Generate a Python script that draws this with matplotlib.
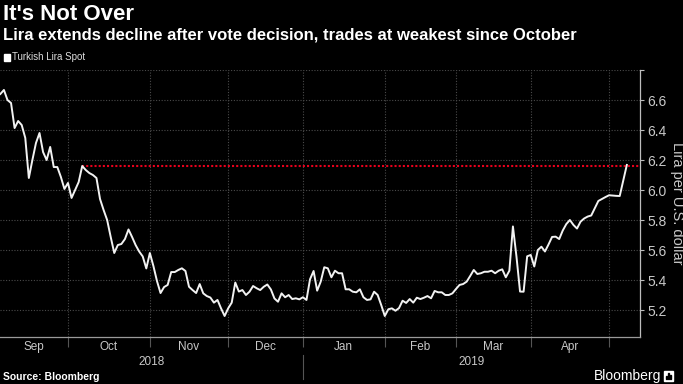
#!/usr/bin/env python3
"""Turkish lira spot chart, Bloomberg dark style."""

import numpy as np
import pandas as pd
import matplotlib
matplotlib.use("Agg")
import matplotlib.pyplot as plt
import matplotlib.transforms as mtransforms
from matplotlib.patches import Rectangle
from matplotlib.lines import Line2D

# --- data ---
spot_dates = list(pd.bdate_range("2018-09-04", "2019-05-06")) + [pd.Timestamp("2019-05-08")]
spot_values = [
    6.64, 6.667, 6.60, 6.58, 6.413, 6.46, 6.433, 6.347, 6.08, 6.20,
    6.313, 6.38, 6.253, 6.20, 6.287, 6.153, 6.153, 6.087, 6.007, 6.047,
    5.947, 6.00, 6.053, 6.16, 6.133, 6.113, 6.10, 6.08, 5.94, 5.867,
    5.80, 5.687, 5.58, 5.633, 5.64, 5.673, 5.737, 5.687, 5.633, 5.59,
    5.557, 5.477, 5.58, 5.493, 5.393, 5.313, 5.353, 5.367, 5.453, 5.453,
    5.467, 5.478, 5.46, 5.355, 5.333, 5.313, 5.373, 5.311, 5.293, 5.283,
    5.249, 5.267, 5.211, 5.16, 5.211, 5.249, 5.383, 5.323, 5.333, 5.30,
    5.322, 5.36, 5.345, 5.333, 5.355, 5.37, 5.337, 5.277, 5.255, 5.311,
    5.285, 5.30, 5.273, 5.278, 5.271, 5.285, 5.267, 5.405, 5.46, 5.329,
    5.389, 5.485, 5.478, 5.418, 5.462, 5.445, 5.445, 5.338, 5.338, 5.322,
    5.318, 5.338, 5.285, 5.267, 5.271, 5.322, 5.30, 5.233, 5.16, 5.205,
    5.211, 5.195, 5.213, 5.262, 5.247, 5.273, 5.249, 5.282, 5.273, 5.282,
    5.293, 5.278, 5.327, 5.318, 5.318, 5.30, 5.30, 5.311, 5.34, 5.367,
    5.373, 5.389, 5.427, 5.467, 5.44, 5.445, 5.455, 5.455, 5.462, 5.445,
    5.462, 5.471, 5.418, 5.462, 5.757, 5.555, 5.323, 5.322, 5.558, 5.567,
    5.49, 5.60, 5.622, 5.59, 5.637, 5.687, 5.689, 5.673, 5.73, 5.773,
    5.80, 5.767, 5.743, 5.789, 5.81, 5.823, 5.83, 5.878, 5.927, 5.94,
    5.953, 5.965, 5.963, 5.961, 5.96, 6.167,
]
ref_level = 6.16
ref_start = "2018-10-05"

month_starts = ["2018-10-01", "2018-11-01", "2018-12-01", "2019-01-01",
                "2019-02-01", "2019-03-01", "2019-04-01", "2019-05-01"]
month_labels = ["Sep", "Oct", "Nov", "Dec", "Jan", "Feb", "Mar", "Apr"]
year_labels = ["2018", "2019"]
y_ticks = [5.2, 5.4, 5.6, 5.8, 6.0, 6.2, 6.4, 6.6, 6.8]

title = "It's Not Over"
subtitle = "Lira extends decline after vote decision, trades at weakest since October"
series_name = "Turkish Lira Spot"
y_label = "Lira per U.S. dollar"
source = "Source: Bloomberg"

# --- x positions on a business-day scale ---
origin = "2018-09-03"
day_str = [d.strftime("%Y-%m-%d") for d in spot_dates]
x = np.busday_count(origin, day_str)
bounds = np.busday_count(origin, month_starts)
x_left, x_right = 0.9, 180.7

narrow = ["Liberation Sans Narrow", "Liberation Sans", "DejaVu Sans"]
plain = ["Liberation Sans", "DejaVu Sans"]
grey = "#c8c8c8"

W, H = 683, 384
fig = plt.figure(figsize=(W / 100, H / 100), dpi=100, facecolor="black")
ax = fig.add_axes([0, 47 / H, 640 / W, 267 / H], facecolor="black")

ax.plot(x, spot_values, color="#f2f2f2", lw=1.4, zorder=3)
ax.hlines(ref_level, np.busday_count(origin, ref_start), x_right,
          colors="#e8001c", linestyles=(0, (1, 1)), lw=1.5, zorder=2)

ax.set_xlim(x_left, x_right)
ax.set_ylim(5.02, 6.8)

# grid
ax.set_yticks(y_ticks)
ax.set_yticklabels([f"{t:.1f}" if t < 6.7 else "" for t in y_ticks])
ax.set_xticks(bounds)
ax.set_xticklabels([])
ax.grid(True, color="#4a4a4a", ls=(0, (1, 1.5)), lw=0.8)
ax.set_axisbelow(True)

ax.yaxis.tick_right()
ax.yaxis.set_label_position("right")
ax.tick_params(axis="y", colors="#bdbdbd", labelcolor=grey, length=3,
               width=0.8, labelsize=10, pad=2)
ax.tick_params(axis="x", colors="#555555", length=7, width=0.8)
for lab in ax.get_yticklabels():
    lab.set_family(plain)
ax.set_ylabel(y_label, color=grey, fontsize=10.5, family=plain,
              rotation=-90, va="center", labelpad=8)

for side in ("left", "top"):
    ax.spines[side].set_visible(False)
ax.spines["right"].set_color("#bdbdbd")
ax.spines["bottom"].set_color("#9a9a9a")
ax.spines["right"].set_linewidth(0.9)
ax.spines["bottom"].set_linewidth(0.9)

# month and year labels
trans = mtransforms.blended_transform_factory(ax.transData, ax.transAxes)
edges = [x_left] + list(bounds)
for i, name in enumerate(month_labels):
    ax.text((edges[i] + edges[i + 1]) / 2, -10 / 267, name, transform=trans,
            ha="center", va="center", color=grey, fontsize=8.5, family=plain)
jan = np.busday_count(origin, "2019-01-01")
ax.text((x_left + jan) / 2, -25 / 267, year_labels[0], transform=trans,
        ha="center", va="center", color=grey, fontsize=8.5, family=plain)
ax.text((jan + x_right) / 2, -25 / 267, year_labels[1], transform=trans,
        ha="center", va="center", color=grey, fontsize=8.5, family=plain)
ax.add_line(Line2D([jan, jan], [-18 / 267, -42 / 267], transform=trans,
                   color="#555555", lw=0.8, clip_on=False))

# titles and legend
fig.text(3 / W, 1 - 15 / H, title, color="white", fontsize=16,
         fontweight="bold", family=narrow, va="center")
fig.text(3 / W, 1 - 35 / H, subtitle, color="white", fontsize=12,
         fontweight="bold", family=narrow, va="center")
fig.add_artist(Rectangle((4 / W, 1 - 61 / H), 6 / W, 7 / H,
                         transform=fig.transFigure, color="white"))
fig.text(12 / W, 1 - 57.5 / H, series_name, color="#dddddd", fontsize=7,
         family=narrow, va="center")

# footer
fig.text(3 / W, 1 - 377 / H, source, color="white", fontsize=7.5,
         fontweight="bold", family=plain, va="center")
fig.text(661 / W, 1 - 376 / H, "Bloomberg", color="white", fontsize=10,
         family=plain, va="center", ha="right")
fig.add_artist(Rectangle((664 / W, 1 - 381 / H), 9 / W, 10 / H,
                         transform=fig.transFigure, color="white"))
for k, hgt in enumerate([3, 6, 4]):
    fig.add_artist(Rectangle(((665.5 + 2.2 * k) / W, 1 - 379 / H), 1.4 / W, hgt / H,
                             transform=fig.transFigure, color="black"))

fig.savefig("out.png", dpi=100, facecolor="black")
